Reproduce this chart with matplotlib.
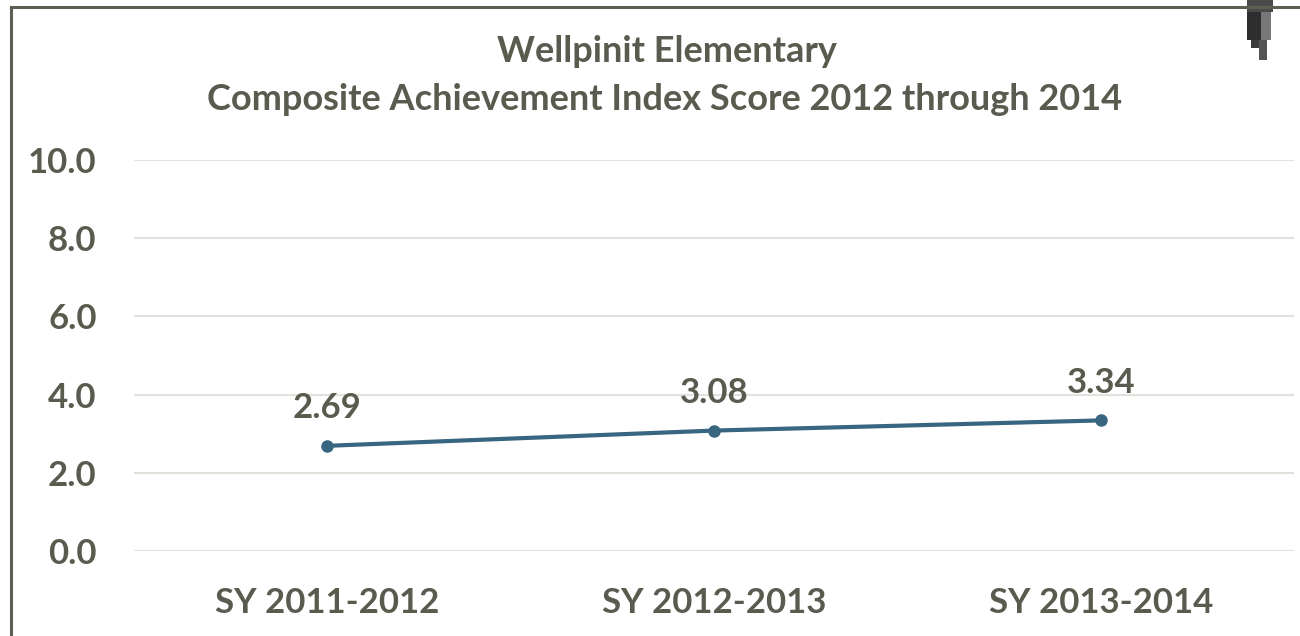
import matplotlib
matplotlib.use("Agg")
import matplotlib.pyplot as plt
from matplotlib.lines import Line2D
from matplotlib.patches import Rectangle

categories = ["SY 2011-2012", "SY 2012-2013", "SY 2013-2014"]
scores = [2.69, 3.08, 3.34]
yticks = [0.0, 2.0, 4.0, 6.0, 8.0, 10.0]
title_lines = ["Wellpinit Elementary", "Composite Achievement Index Score 2012 through 2014"]

TEXT = "#5b5a4e"
LINE = "#386580"
GRID = "#e2e2dc"
FONT = "Lato"
FS = 25

W, H = 1300, 636
fig = plt.figure(figsize=(W / 100, H / 100), dpi=100)
fig.patch.set_facecolor("white")

def fx(px):
    return px / W

def fy(py):
    return 1 - py / H

ax = fig.add_axes([fx(134), fy(551), fx(1294) - fx(134), fy(160) - fy(551)])
ax.set_xlim(-0.5, len(categories) - 0.5)
ax.set_ylim(0, 10)
xs = list(range(len(categories)))
ax.plot(xs, scores, color=LINE, lw=3.0, marker="o", ms=8, solid_capstyle="round", zorder=3)
for x, v in zip(xs, scores):
    ax.annotate(f"{v:.2f}", (x, v), xytext=(0, 27), textcoords="offset points",
                ha="center", va="center", fontsize=FS, fontweight="bold",
                color=TEXT, family=FONT)

ax.set_yticks(yticks)
ax.set_yticklabels([f"{t:.1f}" for t in yticks])
ax.set_xticks(xs)
ax.set_xticklabels(categories)
ax.yaxis.grid(True, color=GRID, lw=1.5)
ax.set_axisbelow(True)
for s in ax.spines.values():
    s.set_visible(False)
ax.tick_params(axis="both", length=0, labelsize=FS, labelcolor=TEXT)
ax.tick_params(axis="y", pad=27)
ax.tick_params(axis="x", pad=26)
for lab in ax.get_xticklabels() + ax.get_yticklabels():
    lab.set_fontweight("bold")
    lab.set_family(FONT)

fig.text(fx(667), fy(52), title_lines[0], ha="center", va="center", fontsize=26,
         fontweight="bold", color=TEXT, family=FONT)
fig.text(fx(665), fy(100), title_lines[1], ha="center", va="center", fontsize=26,
         fontweight="bold", color=TEXT, family=FONT)

# chart frame (left and top edges)
fig.add_artist(Line2D([fx(11), fx(11)], [fy(7), 0], color="#5f5e52", lw=2.2))
fig.add_artist(Line2D([fx(11), 1], [fy(7), fy(7)], color="#5f5e52", lw=2.2))

# small dark artifact at top right
for (x0, y0, w, h, c) in [(1247, 0, 26, 12, "#4a4a4a"), (1247, 12, 14, 28, "#2e2e2e"),
                          (1261, 12, 10, 28, "#777777"), (1251, 40, 8, 8, "#3a3a3a"),
                          (1259, 40, 8, 20, "#555555")]:
    fig.add_artist(Rectangle((fx(x0), fy(y0 + h)), w / W, h / H, color=c, lw=0))

fig.savefig("out.png", dpi=100)
